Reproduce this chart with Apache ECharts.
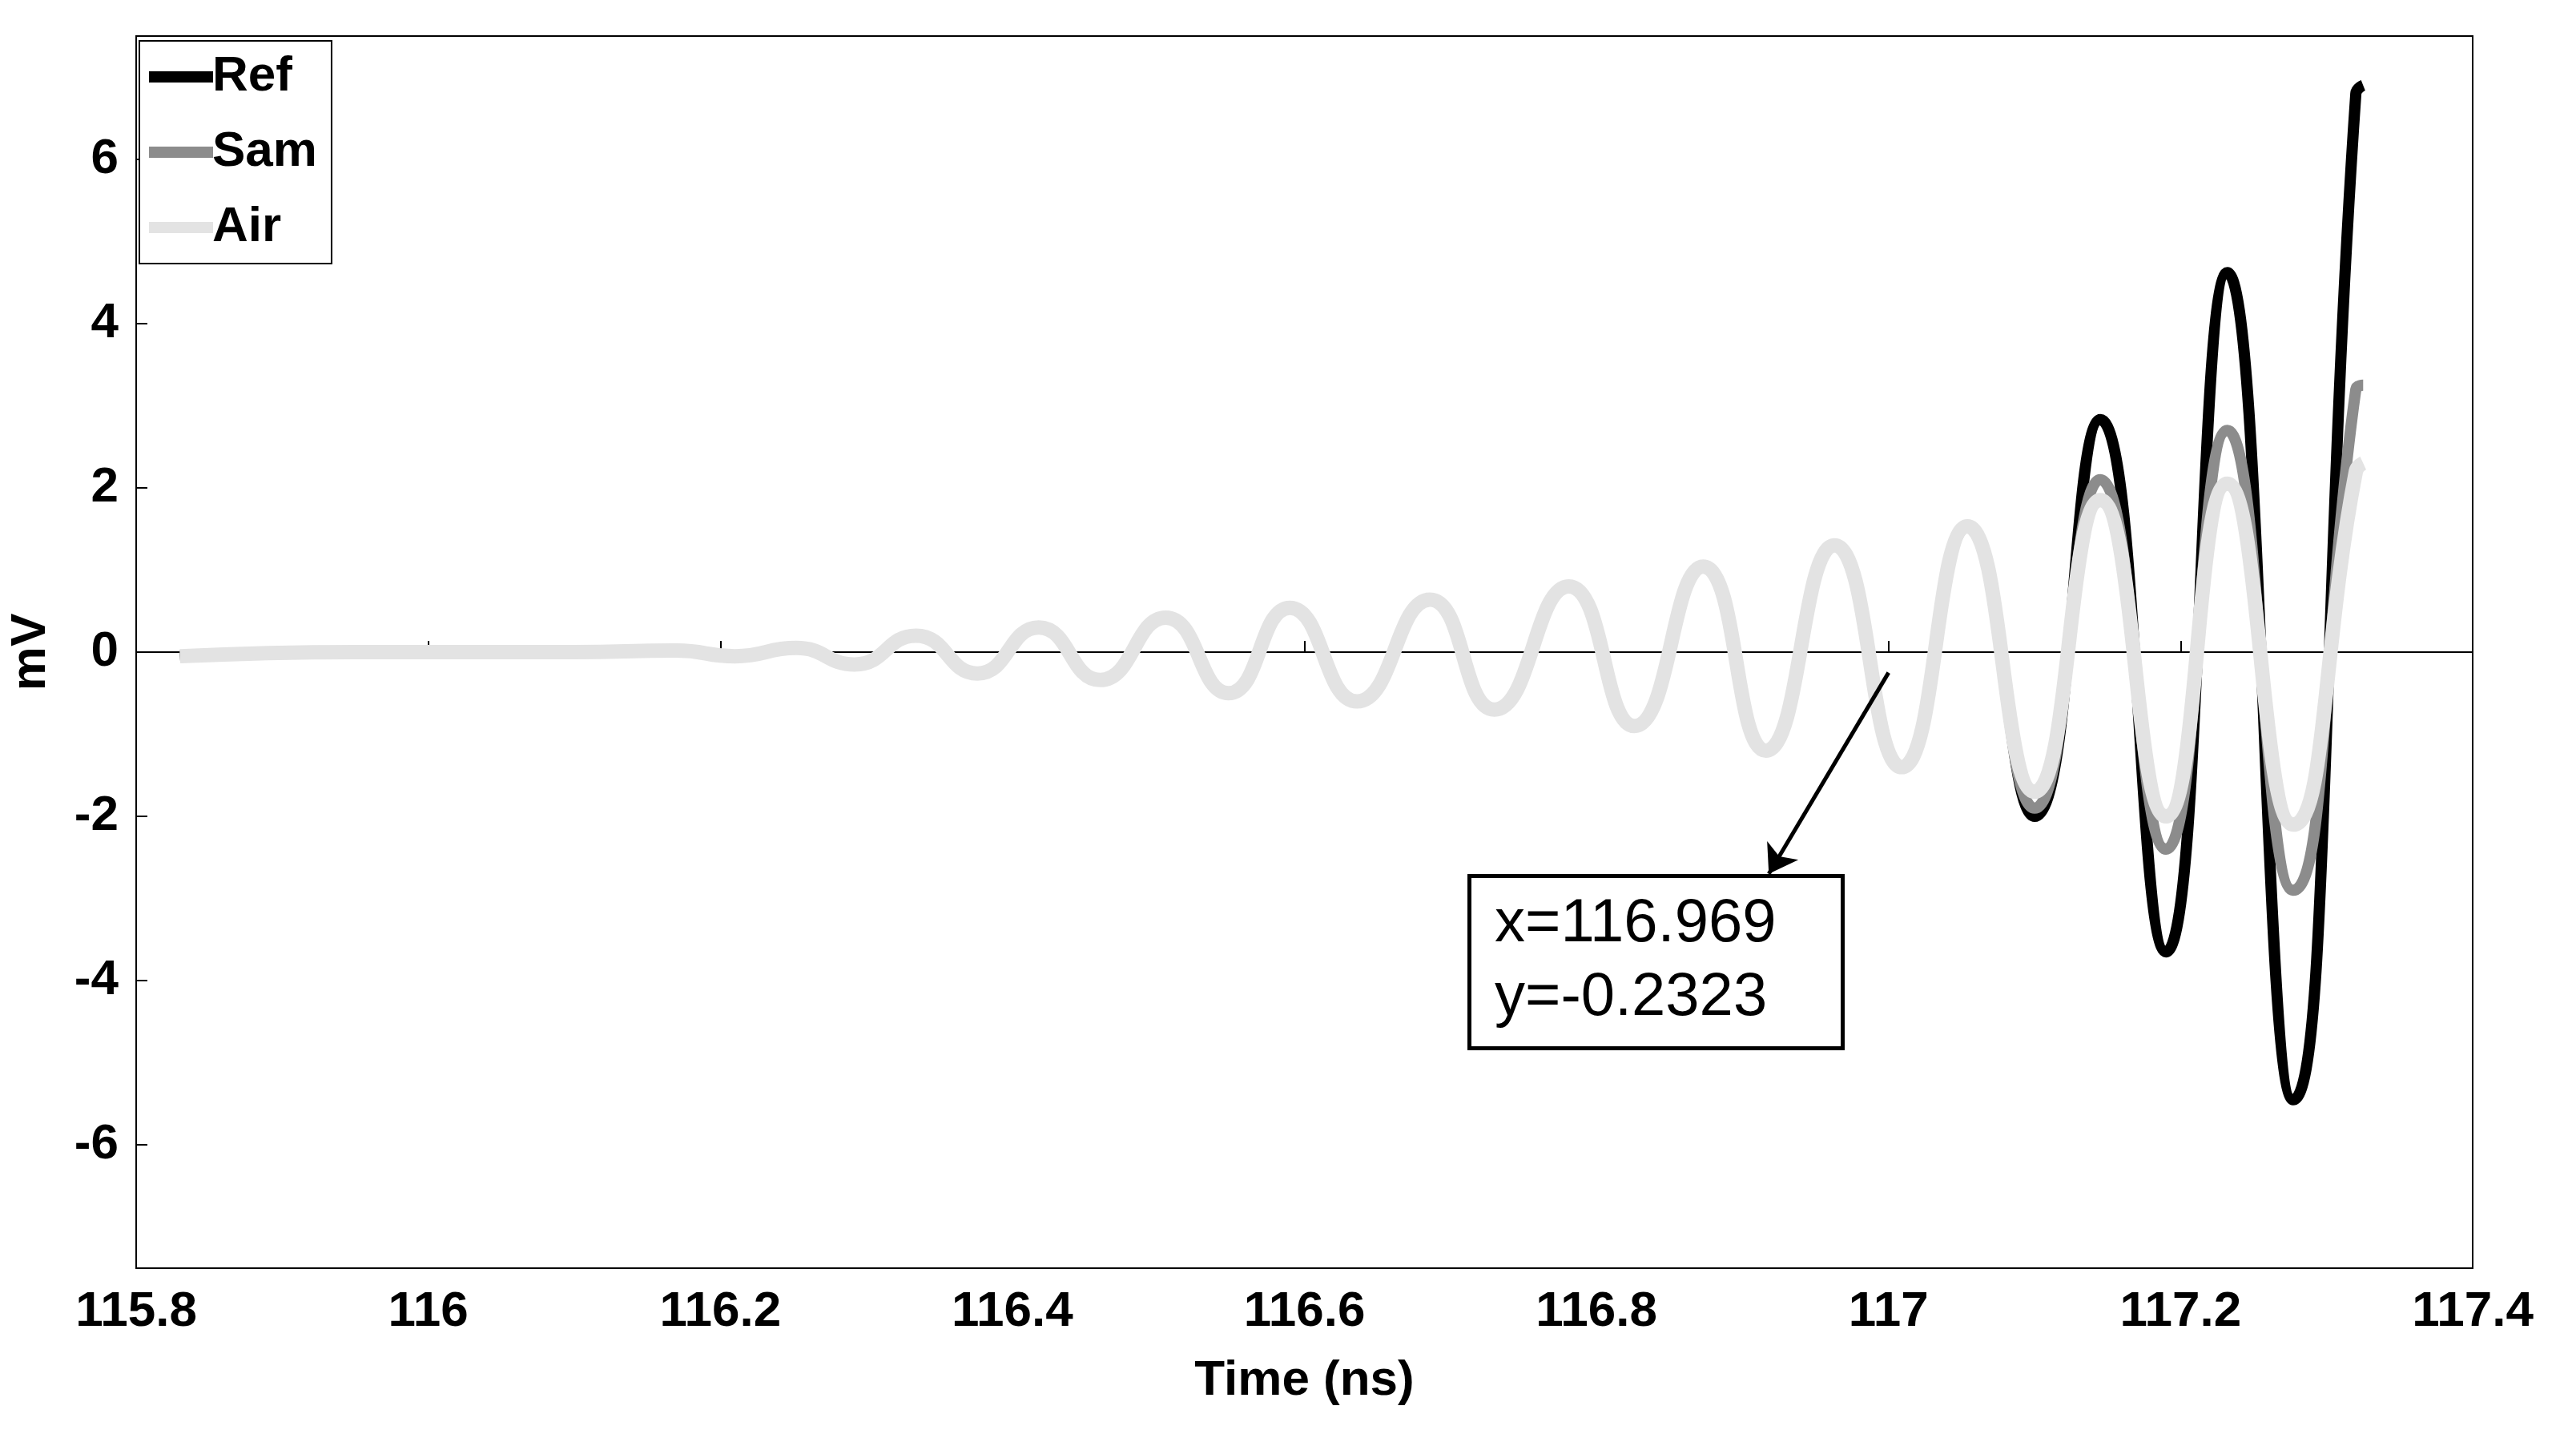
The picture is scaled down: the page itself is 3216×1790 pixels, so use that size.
<!DOCTYPE html>
<html>
<head>
<meta charset="UTF-8">
<title>Ref / Sam / Air</title>
<script src="https://cdn.jsdelivr.net/npm/echarts@6/dist/echarts.min.js"></script>
<style>html,body{margin:0;background:#fff}</style>
</head>
<body>
<div id="chart" style="width:3216px;height:1790px;"></div>
<script>
// extremes (time ns, mV)
var timeCommon = [115.83, 115.95, 116.1, 116.17, 116.21, 116.252, 116.292, 116.334, 116.376, 116.418, 116.46, 116.505, 116.548, 116.59, 116.636, 116.686, 116.73, 116.781, 116.826, 116.873, 116.916, 116.963, 117.009, 117.054];
var airCommon  = [-0.05, 0, 0, 0.02, -0.05, 0.05, -0.15, 0.2, -0.26, 0.3, -0.34, 0.42, -0.5, 0.54, -0.6, 0.64, -0.7, 0.8, -0.9, 1.04, -1.2, 1.3, -1.4, 1.53];
var timeTail = [117.1, 117.145, 117.19, 117.232, 117.277, 117.32, 117.325];
var refTail  = [-2.0, 2.83, -3.65, 4.62, -5.45, 6.8, 6.9];
var samTail  = [-1.9, 2.1, -2.4, 2.7, -2.9, 3.2, 3.25];
var airTail  = [-1.7, 1.85, -2.0, 2.05, -2.1, 2.2, 2.3];
var yTicks = [-6, -4, -2, 0, 2, 4, 6];

function pairs(ts, vs) {
    var res = [];
    for (var i = 0; i < ts.length; i++) res.push([ts[i], vs[i]]);
    return res;
}
var times = timeCommon.concat(timeTail);
var refData = pairs(times, airCommon.concat(refTail));
var samData = pairs(times, airCommon.concat(samTail));
var airData = pairs(times, airCommon.concat(airTail));

var chart = echarts.init(document.getElementById('chart'));
var lbl = {color: '#000', fontWeight: 'bold', fontSize: 62, fontFamily: 'Liberation Sans'};
var option = {
    animation: false,
    backgroundColor: '#fff',
    grid: {left: 170, right: 129, top: 45, bottom: 207, show: true, borderColor: '#000', borderWidth: 2},
    xAxis: {
        type: 'value', min: 115.8, max: 117.4, interval: 0.2,
        axisLine: {lineStyle: {color: '#000', width: 2}},
        axisTick: {inside: true, length: 14, lineStyle: {color: '#000', width: 2}},
        splitLine: {show: false},
        axisLabel: Object.assign({margin: 24, formatter: function (v) { return +v.toFixed(1); }}, lbl),
        name: 'Time (ns)', nameLocation: 'middle', nameGap: 110,
        nameTextStyle: lbl
    },
    yAxis: {
        type: 'value', min: -7.5, max: 7.5,
        axisLine: {lineStyle: {color: '#000', width: 2}},
        axisTick: {inside: true, length: 14, customValues: yTicks, lineStyle: {color: '#000', width: 2}},
        splitLine: {show: false},
        axisLabel: Object.assign({margin: 22, customValues: yTicks}, lbl),
        name: 'mV', nameLocation: 'middle', nameGap: 100,
        nameTextStyle: lbl
    },
    legend: {
        left: 174, top: 51, orient: 'vertical',
        backgroundColor: '#fff', borderColor: '#000', borderWidth: 2,
        padding: [14, 18, 14, 12], itemGap: 32, itemWidth: 80, itemHeight: 14,
        icon: 'rect',
        textStyle: Object.assign({}, lbl, {padding: [0, 0, 0, -6]}),
        data: ['Ref', 'Sam', 'Air']
    },
    series: [
        {name: 'Ref', type: 'line', smooth: 0.5, showSymbol: false, data: refData,
         color: '#000', lineStyle: {width: 14, color: '#000'},
         markLine: {silent: true, symbol: ['none', 'arrow'], symbolSize: 34,
            label: {show: false}, lineStyle: {color: '#000', width: 5, type: 'solid'},
            data: [[{coord: [117.0, -0.25]}, {coord: [116.918, -2.7]}]]}},
        {name: 'Sam', type: 'line', smooth: 0.5, showSymbol: false, data: samData,
         color: '#8c8c8c', lineStyle: {width: 14, color: '#8c8c8c'}},
        {name: 'Air', type: 'line', smooth: 0.5, showSymbol: false, data: airData,
         color: '#e3e3e3', lineStyle: {width: 18, color: '#e3e3e3'}}
    ],
    graphic: [{
        type: 'rect', left: 1832, top: 1091, z: 100,
        shape: {width: 466, height: 215},
        style: {fill: '#fff', stroke: '#000', lineWidth: 5}
    }, {
        type: 'text', left: 1866, top: 1108, z: 101,
        style: {text: 'x=116.969\ny=-0.2323', fill: '#000', fontSize: 76, lineHeight: 92, fontFamily: 'Liberation Sans'}
    }]
};
chart.setOption(option);
</script>
</body>
</html>
